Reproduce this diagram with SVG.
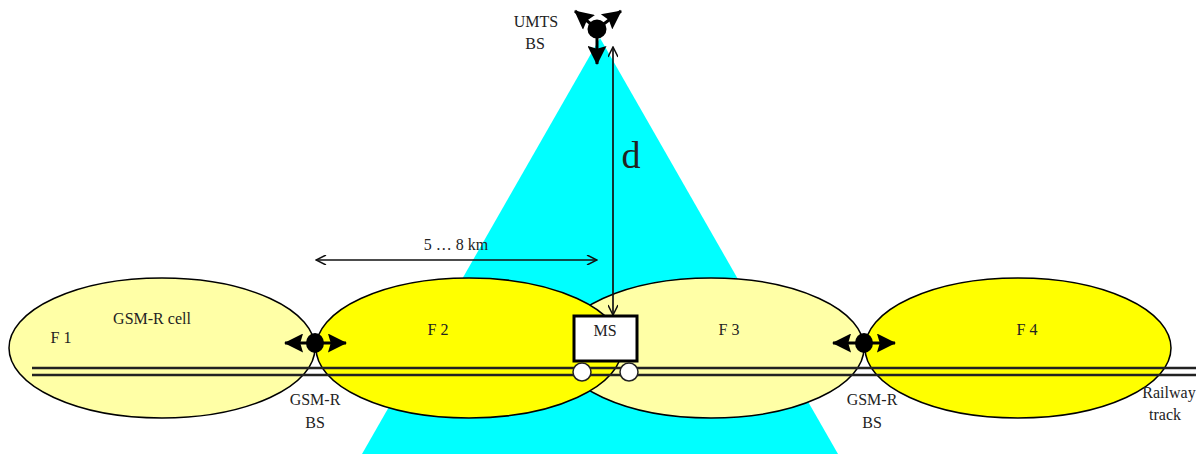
<svg xmlns="http://www.w3.org/2000/svg" width="1196" height="454" viewBox="0 0 1196 454">
<style>
text{font-family:"Liberation Serif",serif;fill:#222;text-anchor:middle;font-size:16px}
.cell{stroke:#000;stroke-width:1.5}
.light{fill:#ffffa6}
.dark{fill:#ffff00}
.rail{stroke:#222;stroke-width:2.6;fill:none}
.thin{stroke:#111;stroke-width:1.7;fill:none}
.ant{stroke:#000;stroke-width:3;fill:none}
</style>
<defs>
<marker id="big" viewBox="0 0 10 10" refX="9.5" refY="5" markerWidth="20" markerHeight="19" markerUnits="userSpaceOnUse" orient="auto-start-reverse"><path d="M0 0L10 5L0 10L1.5 5Z" fill="#000"/></marker>
<marker id="small" viewBox="0 0 10 10" refX="10" refY="5" markerWidth="12" markerHeight="10" markerUnits="userSpaceOnUse" orient="auto-start-reverse"><path d="M0 0L10 5L0 10" fill="none" stroke="#111" stroke-width="1.5"/></marker>
</defs>
<rect width="1196" height="454" fill="#fff"/>
<polygon id="umts-beam" points="600,38 838,454 362,454" fill="#00ffff"/>
<g id="cell-f1"><ellipse class="cell light" cx="162" cy="348" rx="153" ry="70"/><text x="61" y="343">F 1</text><text x="152" y="324">GSM-R cell</text></g>
<g id="cell-f3"><ellipse class="cell light" cx="711" cy="348" rx="153" ry="70"/><text x="729" y="335">F 3</text></g>
<g id="cell-f2"><ellipse class="cell dark" cx="469" cy="348" rx="153" ry="70"/><text x="438" y="335">F 2</text></g>
<g id="cell-f4"><ellipse class="cell dark" cx="1018" cy="348" rx="153" ry="70"/><text x="1027" y="335">F 4</text></g>
<g id="railway"><line class="rail" x1="32" y1="368" x2="1196" y2="368"/><line class="rail" x1="32" y1="375" x2="1196" y2="375"/><text x="1169" y="398">Railway</text><text x="1165" y="420">track</text></g>
<g id="connectors">
<line class="thin" x1="316" y1="260" x2="597" y2="260" marker-start="url(#small)" marker-end="url(#small)"/>
<line class="thin" x1="613" y1="47" x2="613" y2="315" marker-start="url(#small)" marker-end="url(#small)"/>
</g>
<text id="label-distance" x="456" y="250">5 … 8 km</text>
<text id="label-d" x="631" y="168" style="font-size:38px">d</text>
<g id="umts-bs"><circle cx="597" cy="29" r="9.5" fill="#000"/><line class="ant" x1="597" y1="29" x2="597" y2="64" marker-end="url(#big)"/><line class="ant" x1="597" y1="29" x2="575" y2="11" marker-end="url(#big)"/><line class="ant" x1="597" y1="29" x2="621" y2="11" marker-end="url(#big)"/><text x="536" y="27">UMTS</text><text x="535" y="49">BS</text></g>
<g id="gsm-bs-left"><ellipse cx="315" cy="343" rx="9" ry="10" fill="#000"/><line class="ant" x1="285" y1="343" x2="346" y2="343" marker-start="url(#big)" marker-end="url(#big)"/><text x="315" y="405">GSM-R</text><text x="315" y="428">BS</text></g>
<g id="gsm-bs-right"><ellipse cx="864" cy="343" rx="9" ry="10" fill="#000"/><line class="ant" x1="833" y1="343" x2="895" y2="343" marker-start="url(#big)" marker-end="url(#big)"/><text x="872" y="405">GSM-R</text><text x="872" y="428">BS</text></g>
<g id="ms"><rect x="574" y="316" width="63" height="45" fill="#fff" stroke="#000" stroke-width="3"/><text x="605" y="336">MS</text><circle cx="582" cy="372" r="9" fill="#fff" stroke="#222" stroke-width="1.5"/><circle cx="629" cy="372" r="9" fill="#fff" stroke="#222" stroke-width="1.5"/></g>
</svg>
